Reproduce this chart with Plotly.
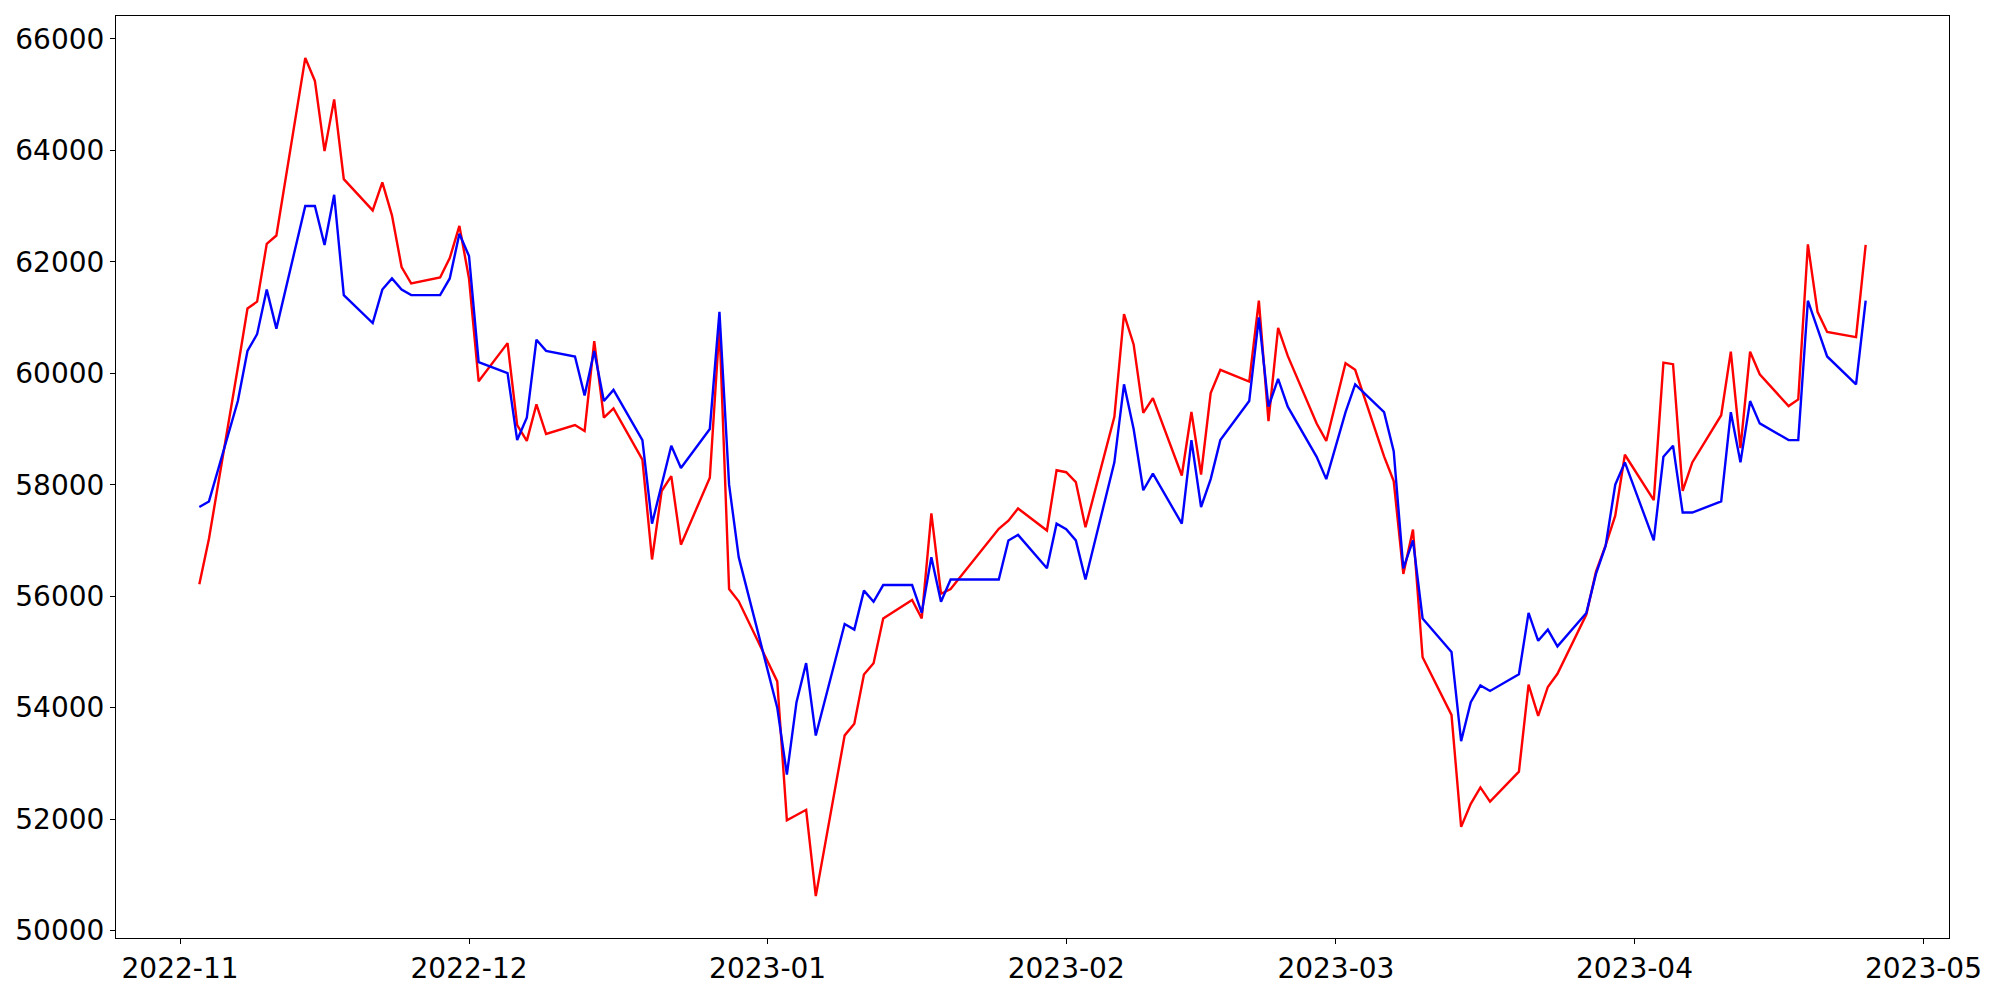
import pandas as pd
import plotly.graph_objects as go

# Trading days (KRX calendar: Dec 30, Seollal Jan 23-24, Mar 1 closed)
start_date = "2022-11-03"
end_date = "2023-04-25"
closed_days = ["2022-12-30", "2023-01-23", "2023-01-24", "2023-03-01"]

blue_nov = [57600, 57700, 59500, 60400, 60700, 61500, 60800, 63000, 63000, 62300,
            63200, 61400, 60900, 61500, 61700, 61500, 61400, 61400, 61700, 62500]
blue_dec = [62100, 60200, 60000, 58800, 59200, 60600, 60400, 60300, 59600, 60400,
            59500, 59700, 58800, 57300, 58000, 58700, 58300, 59000, 61100, 58000, 56700]
blue_jan = [54000, 52800, 54100, 54800, 53500, 55500, 55400, 56100, 55900, 56200,
            56200, 55700, 56700, 55900, 56300, 56300, 57000, 57100, 56500, 57300]
blue_feb = [57200, 57000, 56300, 58400, 59800, 59000, 57900, 58200, 57300, 58800,
            57600, 58100, 58800, 59500, 61000, 59400, 59900, 59400, 58500, 58100]
blue_mar = [59300, 59800, 59300, 58600, 56500, 57000, 55600, 55000, 53400, 54100, 54400,
            54300, 54600, 55700, 55200, 55400, 55100, 55700, 56400, 56900, 58000, 58400]
blue_apr = [57000, 58500, 58700, 57500, 57500, 57700, 59300, 58400, 59500, 59100,
            58800, 58800, 61300, 60800, 60300, 59800, 61300]

red_nov = [56215, 57031, 60103, 61160, 61284, 62320, 62470, 65656, 65243, 63984,
           64912, 63482, 62921, 63423, 62832, 61905, 61609, 61716, 62064, 62643]
red_dec = [61698, 59855, 60540, 59069, 58785, 59441, 58909, 59069, 58962, 60575,
           59205, 59370, 58448, 56658, 57887, 58153, 56924, 58124, 60841, 56127, 55908]
red_jan = [54472, 51979, 52074, 52168, 50620, 53503, 53710, 54596, 54797, 55601,
           55932, 55601, 57485, 56044, 56127, 57208, 57355, 57574, 57178, 58259]
red_feb = [58224, 58047, 57237, 59217, 61060, 60516, 59287, 59553, 58165, 59305,
           58183, 59642, 60061, 59849, 61302, 59140, 60812, 60310, 59098, 58785]
red_mar = [60180, 60061, 58508, 58065, 56398, 57196, 54904, 53870, 51861, 52275, 52570,
           52316, 52853, 54413, 53852, 54372, 54608, 55671, 56440, 56912, 57444, 58537]
red_apr = [57722, 60191, 60162, 57887, 58400, 59246, 60386, 58655, 60386, 59980,
           59410, 59530, 62310, 61100, 60740, 60646, 62300]

dates = pd.bdate_range(start_date, end_date, freq="C", holidays=closed_days)
blue_vals = blue_nov + blue_dec + blue_jan + blue_feb + blue_mar + blue_apr
red_vals = red_nov + red_dec + red_jan + red_feb + red_mar + red_apr
assert len(dates) == len(blue_vals) == len(red_vals)

FONT = "DejaVu Sans"

fig = go.Figure()
fig.add_trace(go.Scatter(x=dates, y=red_vals, mode="lines",
                         line=dict(color="#ff0000", width=2.4), showlegend=False))
fig.add_trace(go.Scatter(x=dates, y=blue_vals, mode="lines",
                         line=dict(color="#0000ff", width=2.4), showlegend=False))

# matplotlib-like 5% data margins
xspan = dates[-1] - dates[0]
xrange = [dates[0] - 0.05 * xspan, dates[-1] + 0.05 * xspan]
allv = red_vals + blue_vals
ymin, ymax = min(allv), max(allv)
yspan = ymax - ymin
yrange = [ymin - 0.05 * yspan, ymax + 0.05 * yspan]

# page body has an 8px default margin; figure sized to fit the window
fig.update_layout(
    width=1984, height=984,
    margin=dict(l=105, r=43, t=7, b=45),
    paper_bgcolor="white", plot_bgcolor="white",
    font=dict(family=FONT, size=28, color="black"),
)
fig.update_xaxes(
    type="date", range=[xrange[0].isoformat(), xrange[1].isoformat()],
    tick0="2022-11-01", dtick="M1", tickformat="%Y-%m",
    showgrid=False, zeroline=False,
    showline=True, mirror=True, linecolor="black", linewidth=1.1,
    ticks="outside", ticklen=5, tickwidth=1.1, tickcolor="black",
    tickfont=dict(family=FONT, size=28, color="black"),
)
fig.update_yaxes(
    range=yrange, tick0=50000, dtick=2000, tickformat="d",
    showgrid=False, zeroline=False,
    showline=True, mirror=True, linecolor="black", linewidth=1.1,
    ticks="outside", ticklen=5, tickwidth=1.1, tickcolor="black",
    tickfont=dict(family=FONT, size=28, color="black"),
)

fig.write_html("out.html", config={"displayModeBar": False})
